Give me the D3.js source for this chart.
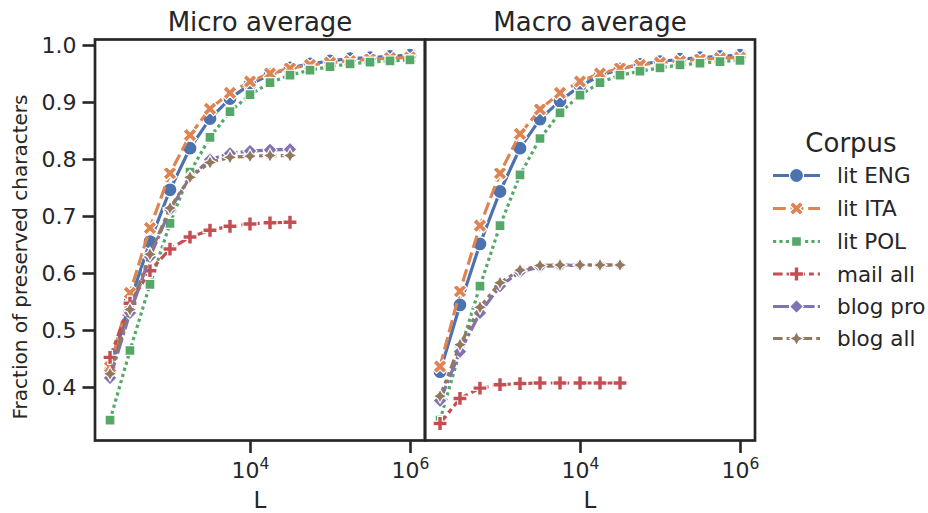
<!DOCTYPE html>
<html>
<head>
<meta charset="utf-8">
<script src="https://cdn.jsdelivr.net/npm/d3@7"></script>
<style>
  body { margin: 0; background: #fff; }
  svg { display: block; }
  text { font-family: "DejaVu Sans", sans-serif; fill: #262626; }
</style>
</head>
<body>
<svg id="chart" width="928" height="513"></svg>
<script>
// Block length L (log-spaced sample points)
const L = [178, 316, 562, 1000, 1778, 3162, 5623, 10000, 17783, 31623, 56234, 100000, 177828, 316228, 562341, 1000000];

const corpora = ["lit ENG", "lit ITA", "lit POL", "mail all", "blog pro", "blog all"];
const panelTitles = ["Micro average", "Macro average"];

// Micro average: fraction of preserved characters
const microLitENG  = [0.428, 0.550, 0.655, 0.746, 0.819, 0.871, 0.906, 0.931, 0.948, 0.960, 0.967, 0.972, 0.976, 0.978, 0.980, 0.982];
const microLitITA  = [0.435, 0.565, 0.679, 0.775, 0.842, 0.888, 0.916, 0.936, 0.950, 0.959, 0.965, 0.969, 0.972, 0.975, 0.977, 0.978];
const microLitPOL  = [0.342, 0.464, 0.580, 0.687, 0.777, 0.838, 0.883, 0.913, 0.934, 0.947, 0.956, 0.962, 0.967, 0.970, 0.972, 0.974];
const microMail    = [0.452, 0.547, 0.604, 0.642, 0.663, 0.675, 0.682, 0.686, 0.688, 0.689];
const microBlogPro = [0.416, 0.530, 0.628, 0.711, 0.768, 0.799, 0.810, 0.814, 0.816, 0.817];
const microBlogAll = [0.423, 0.536, 0.633, 0.714, 0.768, 0.794, 0.803, 0.805, 0.806, 0.806];

// Macro average
const macroLitENG  = [0.427, 0.544, 0.651, 0.743, 0.819, 0.870, 0.902, 0.928, 0.946, 0.958, 0.966, 0.971, 0.975, 0.978, 0.980, 0.982];
const macroLitITA  = [0.436, 0.568, 0.683, 0.775, 0.844, 0.887, 0.916, 0.936, 0.950, 0.959, 0.965, 0.969, 0.972, 0.975, 0.977, 0.978];
const macroLitPOL  = [0.342, 0.463, 0.577, 0.683, 0.772, 0.836, 0.881, 0.912, 0.934, 0.947, 0.954, 0.960, 0.965, 0.968, 0.971, 0.973];
const macroMail    = [0.336, 0.380, 0.398, 0.404, 0.406, 0.407, 0.407, 0.407, 0.407, 0.407];
const macroBlogPro = [0.376, 0.462, 0.530, 0.577, 0.602, 0.611, 0.613, 0.614, 0.614, 0.614];
const macroBlogAll = [0.384, 0.474, 0.540, 0.583, 0.605, 0.613, 0.614, 0.614, 0.614, 0.614];

const xTicks = [1e4, 1e6];
const yTicks = [0.4, 0.5, 0.6, 0.7, 0.8, 0.9, 1.0];

const panelData = [
  [microLitENG, microLitITA, microLitPOL, microMail, microBlogPro, microBlogAll],
  [macroLitENG, macroLitITA, macroLitPOL, macroMail, macroBlogPro, macroBlogAll]
];

// styling
const colors = ["#4c72b0", "#dd8452", "#55a868", "#c44e52", "#8172b3", "#937860"];
const LW = 3.2;
const dashes = ["", [4, 1.5], [1, 1], [3, 1.25, 1.5, 1.25], [5, 1, 1, 1], [3, 1.25, 1.25, 1.25, 1.25, 1.25]]
  .map(d => d === "" ? null : d.map(v => (v * LW).toFixed(2)).join(","));
const MS = 14;

function poly(pts) { return "M" + pts.map(p => p[0].toFixed(2) + "," + p[1].toFixed(2)).join("L") + "Z"; }
function regular(n, r, rot, inner) {
  const pts = [];
  const k = inner ? 2 * n : n;
  for (let i = 0; i < k; i++) {
    const a = Math.PI / 2 + rot + i * 2 * Math.PI / k;
    const rr = inner && i % 2 === 1 ? r * inner : r;
    pts.push([rr * Math.cos(a), -rr * Math.sin(a)]);
  }
  return poly(pts);
}
const markerPaths = [
  d3.symbol(d3.symbolCircle, Math.PI * (MS / 2) ** 2)(),
  poly([[0.25, 0], [0.5, 0.25], [0.75, 0], [1, 0.25], [0.75, 0.5], [1, 0.75], [0.75, 1], [0.5, 0.75], [0.25, 1], [0, 0.75], [0.25, 0.5], [0, 0.25]]
    .map(p => [(p[0] - 0.5) * MS, (p[1] - 0.5) * MS])),
  regular(4, MS / 2, Math.PI / 4),
  poly([[-1, -3], [1, -3], [1, -1], [3, -1], [3, 1], [1, 1], [1, 3], [-1, 3], [-1, 1], [-3, 1], [-3, -1], [-1, -1]]
    .map(p => [p[0] / 6 * MS, p[1] / 6 * MS])),
  regular(4, MS / 2, 0),
  regular(4, MS / 2, 0, 0.5)
];

const svg = d3.select("#chart");
const ink = "#262626";
const plotTop = 39.5, plotBottom = 440.5;
const panelRanges = [[95, 425], [425, 755]];

const y = d3.scaleLinear().domain([0.30614, 1.00965]).range([plotBottom, plotTop]);

panelRanges.forEach((pr, pi) => {
  const x = d3.scaleLog().domain([Math.pow(10, 2.0625), Math.pow(10, 6.1875)]).range(pr);
  const g = svg.append("g");

  // series: line first, then its markers
  panelData[pi].forEach((vals, si) => {
    const pts = vals.map((v, i) => [L[i], v]);
    const line = d3.line().x(d => x(d[0])).y(d => y(d[1]));
    g.append("path")
      .attr("d", line(pts))
      .attr("fill", "none")
      .attr("stroke", colors[si])
      .attr("stroke-width", LW)
      .attr("stroke-linejoin", "round")
      .attr("stroke-linecap", dashes[si] ? "butt" : "square")
      .attr("stroke-dasharray", dashes[si]);
    g.selectAll(null).data(pts).join("path")
      .attr("d", markerPaths[si])
      .attr("transform", d => `translate(${x(d[0])},${y(d[1])})`)
      .attr("fill", colors[si])
      .attr("stroke", "#fff")
      .attr("stroke-width", 1.2);
  });

  // x axis
  const xa = svg.append("g").attr("transform", `translate(0,${plotBottom})`)
    .call(d3.axisBottom(x).tickValues(xTicks).tickSize(12.5).tickPadding(7).tickFormat(""));
  xa.select(".domain").remove();
  xa.selectAll(".tick line").attr("stroke", ink).attr("stroke-width", 2.6);
  xa.selectAll(".tick").append("text")
    .attr("y", 37.5)
    .attr("text-anchor", "middle")
    .attr("font-size", 22)
    .each(function (d) {
      const t = d3.select(this);
      t.append("tspan").text("10");
      t.append("tspan").attr("dy", -9).attr("font-size", 15.5).text(String(Math.round(Math.log10(d))));
    });

  svg.append("text")
    .attr("x", (pr[0] + pr[1]) / 2)
    .attr("y", 508)
    .attr("text-anchor", "middle")
    .attr("font-size", 23)
    .text("L");

  // y axis (labels on the left panel only)
  const ya = svg.append("g").attr("transform", `translate(${pr[0]},0)`)
    .call(d3.axisLeft(y).tickValues(yTicks).tickSize(12.5).tickPadding(6).tickFormat(d3.format(".1f")));
  ya.select(".domain").remove();
  ya.selectAll(".tick line").attr("stroke", ink).attr("stroke-width", 2.6);
  ya.selectAll(".tick text").attr("font-size", 22).attr("font-family", "DejaVu Sans").attr("fill", ink);
  if (pi === 1) ya.remove();

  // frame
  svg.append("rect")
    .attr("x", pr[0]).attr("y", plotTop)
    .attr("width", pr[1] - pr[0]).attr("height", plotBottom - plotTop)
    .attr("fill", "none").attr("stroke", ink).attr("stroke-width", 2.7);

  // title
  svg.append("text")
    .attr("x", (pr[0] + pr[1]) / 2)
    .attr("y", 31)
    .attr("text-anchor", "middle")
    .attr("font-size", 26)
    .text(panelTitles[pi]);
});

// shared y label
svg.append("text")
  .attr("transform", "translate(27,257) rotate(-90)")
  .attr("text-anchor", "middle")
  .attr("font-size", 20)
  .text("Fraction of preserved characters");

// legend
const lg = svg.append("g");
lg.append("text").attr("x", 851).attr("y", 152).attr("text-anchor", "middle").attr("font-size", 26).text("Corpus");
const rowY = [175.5, 208.5, 241.5, 274, 306.5, 338.5];
corpora.forEach((name, i) => {
  const yy = rowY[i];
  lg.append("line")
    .attr("x1", 773).attr("x2", 820).attr("y1", yy).attr("y2", yy)
    .attr("stroke", colors[i]).attr("stroke-width", LW)
    .attr("stroke-dasharray", dashes[i]);
  lg.append("path")
    .attr("d", markerPaths[i])
    .attr("transform", `translate(796.5,${yy})`)
    .attr("fill", colors[i]).attr("stroke", "#fff").attr("stroke-width", 1.2);
  lg.append("text")
    .attr("x", 837).attr("y", yy + 7.5)
    .attr("font-size", 21.5)
    .text(name);
});
</script>
</body>
</html>
